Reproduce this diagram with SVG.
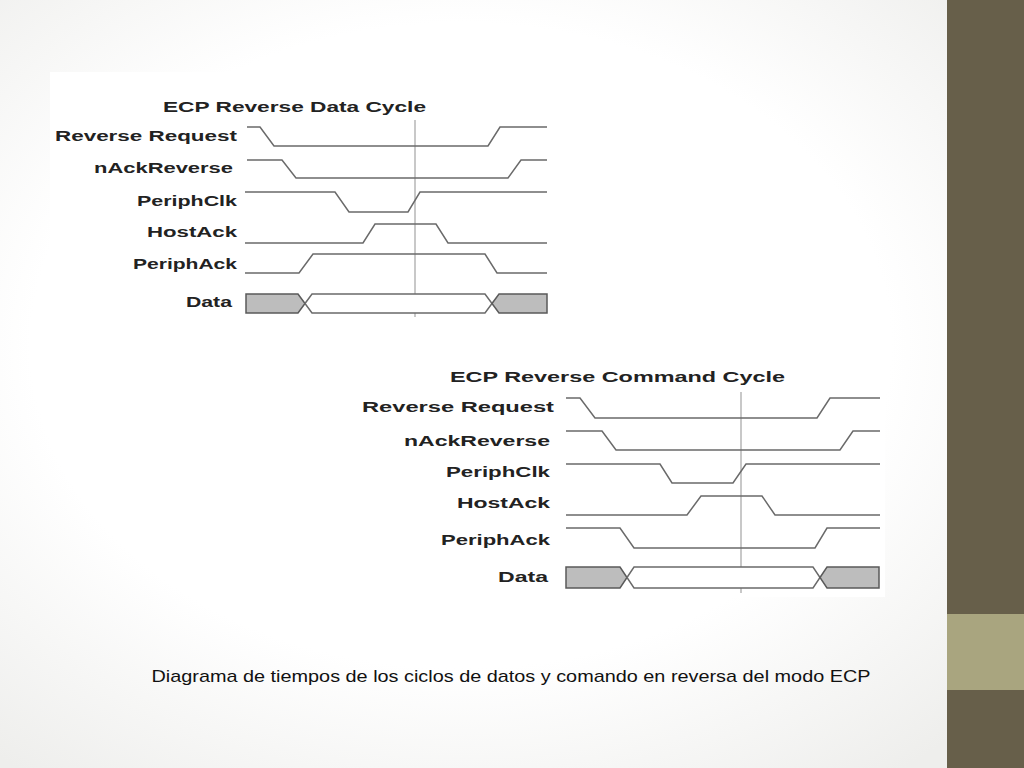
<svg xmlns="http://www.w3.org/2000/svg" width="1024" height="768" viewBox="0 0 1024 768">
<defs>
<radialGradient id="bg" cx="0.45" cy="0.45" r="0.7"><stop offset="0.6" stop-color="#ffffff"/><stop offset="1" stop-color="#eeeeec"/></radialGradient>
<style>
.lb{font-family:"Liberation Sans",Arial,sans-serif;font-weight:bold;font-size:14px;fill:#222;text-anchor:end}
.tt{font-family:"Liberation Sans",Arial,sans-serif;font-weight:bold;font-size:15px;fill:#222}
.sg{fill:none;stroke:#6a6a6a;stroke-width:1.5}
.sh{fill:#bdbdbd;stroke:#5a5a5a;stroke-width:1.5}
.op{fill:#fff;stroke:#6a6a6a;stroke-width:1.5}
.vl{stroke:#c8c8c8;stroke-width:2}
</style>
</defs>
<rect width="1024" height="768" fill="url(#bg)"/>
<rect x="947" y="0" width="77" height="768" fill="#675f4a"/>
<rect x="947" y="614" width="77" height="76" fill="#a9a57f"/>
<rect x="50" y="72" width="510" height="250" fill="#fff"/>
<rect x="358" y="365" width="527" height="232" fill="#fff"/>

<g id="top">
<text class="tt" x="163" y="112" textLength="263" lengthAdjust="spacingAndGlyphs">ECP Reverse Data Cycle</text>
<line class="vl" x1="415" y1="120" x2="415" y2="317"/>
<g id="t-rr"><text class="lb" x="237" y="141" textLength="182" lengthAdjust="spacingAndGlyphs">Reverse Request</text><polyline class="sg" points="247,127 260,127 274,146 488,146 500,127 547,127"/></g>
<g id="t-nack"><text class="lb" x="233" y="173" textLength="139" lengthAdjust="spacingAndGlyphs">nAckReverse</text><polyline class="sg" points="247,160 282,160 296,178 508,178 521,160 547,160"/></g>
<g id="t-pclk"><text class="lb" x="237" y="206" textLength="100" lengthAdjust="spacingAndGlyphs">PeriphClk</text><polyline class="sg" points="245,192 335,192 349,212 408,212 420,192 547,192"/></g>
<g id="t-hack"><text class="lb" x="237" y="237" textLength="90" lengthAdjust="spacingAndGlyphs">HostAck</text><polyline class="sg" points="245,243 363,243 375,224 436,224 448,243 547,243"/></g>
<g id="t-pack"><text class="lb" x="237" y="269" textLength="104" lengthAdjust="spacingAndGlyphs">PeriphAck</text><polyline class="sg" points="245,273 299,273 313,254 485,254 497,273 547,273"/></g>
<g id="t-data"><text class="lb" x="232" y="307" textLength="46" lengthAdjust="spacingAndGlyphs">Data</text>
<polygon class="sh" points="246,294 298,294 305,303.5 298,313 246,313"/>
<polygon class="op" points="305,303.5 312,294 485,294 492,303.5 485,313 312,313"/>
<polygon class="sh" points="492,303.5 499,294 547,294 547,313 499,313"/></g>
</g>

<g id="bottom">
<text class="tt" x="450" y="382" textLength="335" lengthAdjust="spacingAndGlyphs">ECP Reverse Command Cycle</text>
<line class="vl" x1="741" y1="392" x2="741" y2="593"/>
<g id="b-rr"><text class="lb" x="554" y="412" textLength="192" lengthAdjust="spacingAndGlyphs">Reverse Request</text><polyline class="sg" points="566,398 580,398 595,418 817,418 830,398 880,398"/></g>
<g id="b-nack"><text class="lb" x="550" y="446" textLength="146" lengthAdjust="spacingAndGlyphs">nAckReverse</text><polyline class="sg" points="566,431 602,431 616,450 840,450 853,431 880,431"/></g>
<g id="b-pclk"><text class="lb" x="550" y="477" textLength="104" lengthAdjust="spacingAndGlyphs">PeriphClk</text><polyline class="sg" points="566,464 660,464 672,483 733,483 746,464 880,464"/></g>
<g id="b-hack"><text class="lb" x="550" y="508" textLength="93" lengthAdjust="spacingAndGlyphs">HostAck</text><polyline class="sg" points="566,515 687,515 701,496 762,496 775,515 880,515"/></g>
<g id="b-pack"><text class="lb" x="550" y="545" textLength="109" lengthAdjust="spacingAndGlyphs">PeriphAck</text><polyline class="sg" points="566,528 620,528 634,548 815,548 827,528 880,528"/></g>
<g id="b-data"><text class="lb" x="548" y="582" textLength="50" lengthAdjust="spacingAndGlyphs">Data</text>
<polygon class="sh" points="566,567 620,567 627,577.5 620,588 566,588"/>
<polygon class="op" points="627,577.5 634,567 813,567 820,577.5 813,588 634,588"/>
<polygon class="sh" points="820,577.5 827,567 879,567 879,588 827,588"/></g>
</g>

<text x="511" y="682" text-anchor="middle" font-family="'Liberation Sans',Arial,sans-serif" font-size="17" fill="#111" textLength="719" lengthAdjust="spacingAndGlyphs">Diagrama de tiempos de los ciclos de datos y comando en reversa del modo ECP</text>
</svg>
